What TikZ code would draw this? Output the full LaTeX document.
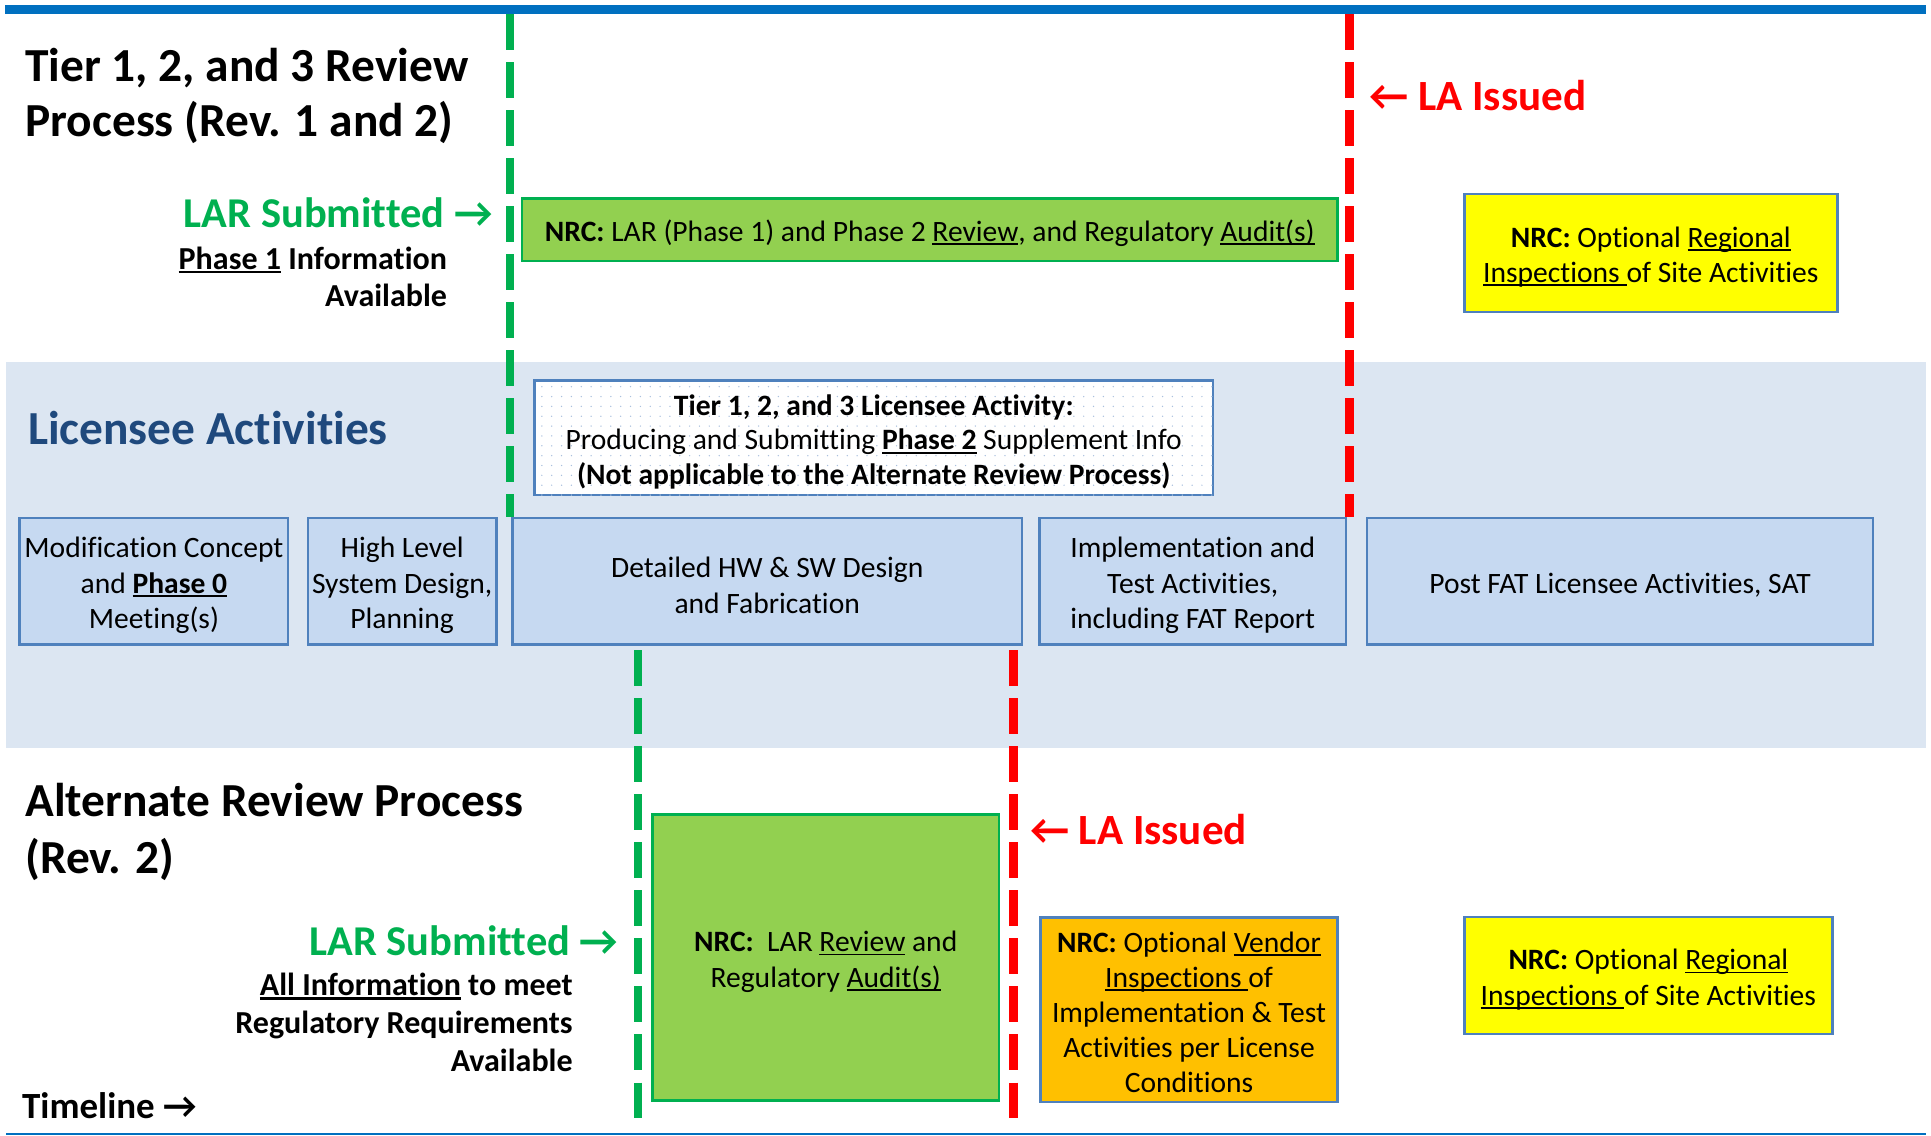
\documentclass[tikz,border=0pt]{standalone}
\usepackage{fontspec}
\setmainfont{Carlito}[Ligatures=NoCommon]
\usetikzlibrary{patterns.meta}
\definecolor{topblue}{HTML}{0070C0}
\definecolor{bandcol}{HTML}{DCE6F2}
\definecolor{licfill}{HTML}{C6D9F1}
\definecolor{licdraw}{HTML}{4F81BD}
\definecolor{nrcfill}{HTML}{92D050}
\definecolor{nrcgreen}{HTML}{00B050}
\definecolor{yelfill}{HTML}{FFFF00}
\definecolor{orgfill}{HTML}{FFC000}
\definecolor{darkblue}{HTML}{1F497D}
\definecolor{redline}{HTML}{FF0000}
\definecolor{dotcol}{HTML}{A9C0DE}
\newsavebox\ulbox
\newcommand\ulx[1]{\sbox\ulbox{#1}\rlap{\rule[-0.12em]{\wd\ulbox}{0.065em}}\usebox\ulbox}
\newcommand\fsz[2]{\fontsize{#1}{#2}\selectfont}
\newcommand\tup{\rule{0pt}{0.98em}}
\newcommand\tups{\rule{0pt}{0.85em}}
\begin{document}
\begin{tikzpicture}[x=1pt,y=-1pt,
  every node/.style={inner sep=0pt, outer sep=0pt},
  boxbase/.style={draw, line width=2pt, align=center, inner sep=2pt},
  licbox/.style={boxbase, draw=licdraw, fill=licfill, font=\fsz{24}{29}, minimum height=103pt},
  nrcbox/.style={boxbase, draw=nrcgreen, fill=nrcfill, font=\fsz{24}{28.5}},
  yelbox/.style={boxbase, draw=licdraw, fill=yelfill, font=\fsz{24}{28.5}},
  orgbox/.style={boxbase, draw=licdraw, fill=orgfill, font=\fsz{24}{28.3}},
  dotbox/.style={boxbase, draw=licdraw, fill=white, postaction={pattern={Dots[distance=8pt,radius=0.6pt]}, pattern color=dotcol}, font=\fsz{24}{28.3}},
  gdash/.style={nrcgreen, line width=7pt, dash pattern=on 29pt off 10pt},
  rdash/.style={redline, line width=7pt, dash pattern=on 29pt off 10pt},
  head/.style={font=\fsz{38.5}{46}\bfseries},
  larlab/.style={font=\fsz{34.5}{42}\bfseries, text=nrcgreen, anchor=base east},
  lalab/.style={font=\fsz{35}{42}\bfseries, text=redline, anchor=base west},
  info/.style={font=\fsz{26}{31}\bfseries, anchor=base east}
]
\useasboundingbox (0,0) rectangle (1568,922);
% background band and rules
\fill[bandcol] (4.5,294) rectangle (1564,607);
\draw[topblue, line width=7.4pt] (4.4,7.7) -- (1564,7.7);
\draw[topblue, line width=2pt] (5,921) -- (1564,921);
% timeline markers
\coordinate (g1t) at (414,11.4);
\coordinate (g1b) at (414,420);
\coordinate (r1t) at (1096,11.4);
\coordinate (r1b) at (1096,420);
\coordinate (g2t) at (518,528);
\coordinate (g2b) at (518,918);
\coordinate (r2t) at (823,528);
\coordinate (r2b) at (823,918);
\draw[gdash] (g1t) -- (g1b);
\draw[rdash] (r1t) -- (r1b);
\draw[gdash] (g2t) -- (g2b);
\draw[rdash] (r2t) -- (r2b);
% top section
\node[head, anchor=base west] (t1a) at (20.6,65.8) {Tier 1, 2, and 3 Review};
\node[head, anchor=base west] (t1b) at (20.6,111) {Process (Rev. 1 and 2)};
\node[larlab] (lar1) at (400,185) {LAR Submitted →};
\node[info] (ph1a) at (363,218.7) {\ulx{Phase 1} Information};
\node[info] (ph1b) at (363,248.5) {Available};
\node[lalab] (la1) at (1112,90) {← LA Issued};
\node[nrcbox, minimum width=662pt, minimum height=51pt] (nrc1) at (755,186.5)
  {\tup\textbf{NRC:} LAR (Phase 1) and Phase 2 \ulx{Review}, and Regulatory \ulx{Audit(s)}};
\node[yelbox, minimum width=303pt, minimum height=96pt] (reg1) at (1340.5,205.5)
  {\tup\textbf{NRC:} Optional \ulx{Regional}\\\ulx{Inspections }of Site Activities};
% licensee section
\node[font=\fsz{38.5}{46}\bfseries, text=darkblue, anchor=base west] (lic) at (22.8,360.8) {Licensee Activities};
\node[dotbox, minimum width=551pt, minimum height=93pt] (p2) at (709.5,355.5)
  {\tup\textbf{Tier 1, 2, and 3 Licensee Activity:}\\Producing and Submitting \textbf{\ulx{Phase 2}} Supplement Info\\\textbf{(Not applicable to the Alternate Review Process)}};
\node[licbox, minimum width=218pt] (b1) at (125,472) {\tup Modification Concept\\and \textbf{\ulx{Phase 0}}\\Meeting(s)};
\node[licbox, minimum width=153pt] (b2) at (326.5,472) {\tup High Level\\System Design,\\Planning};
\node[licbox, minimum width=414pt] (b3) at (623,472) {\tup Detailed HW \& SW Design\\and Fabrication};
\node[licbox, minimum width=249pt] (b4) at (968.5,472) {\tup Implementation and\\Test Activities,\\including FAT Report};
\node[licbox, minimum width=411pt] (b5) at (1315.5,472) {\tup Post FAT Licensee Activities, SAT};
% alternate section
\node[head, anchor=base west] (alt1) at (20.7,662.6) {Alternate Review Process};
\node[head, anchor=base west] (alt2) at (20.7,709) {(Rev. 2)};
\node[larlab] (lar2) at (502,775.5) {LAR Submitted →};
\node[info] (all1) at (465,808.5) {\ulx{All Information} to meet};
\node[info] (all2) at (465,839) {Regulatory Requirements};
\node[info] (all3) at (465,870) {Available};
\node[font=\fsz{30}{36}\bfseries, anchor=base west] (tl) at (18,908) {Timeline →};
\node[lalab] (la2) at (836.5,686) {← LA Issued};
\node[nrcbox, minimum width=281pt, minimum height=232pt] (nrc2) at (670.5,777.5)
  {\tup\textbf{NRC:}\ \ LAR \ulx{Review} and\\Regulatory \ulx{Audit(s)}};
\node[orgbox, minimum width=241pt, minimum height=150pt] (ven) at (965.5,820)
  {\tups\textbf{NRC:} Optional \ulx{Vendor}\\\ulx{Inspections }of\\Implementation \& Test\\Activities per License\\Conditions};
\node[yelbox, minimum width=299pt, minimum height=95pt] (reg2) at (1338.5,792)
  {\tup\textbf{NRC:} Optional \ulx{Regional}\\\ulx{Inspections }of Site Activities};
\end{tikzpicture}
\end{document}
